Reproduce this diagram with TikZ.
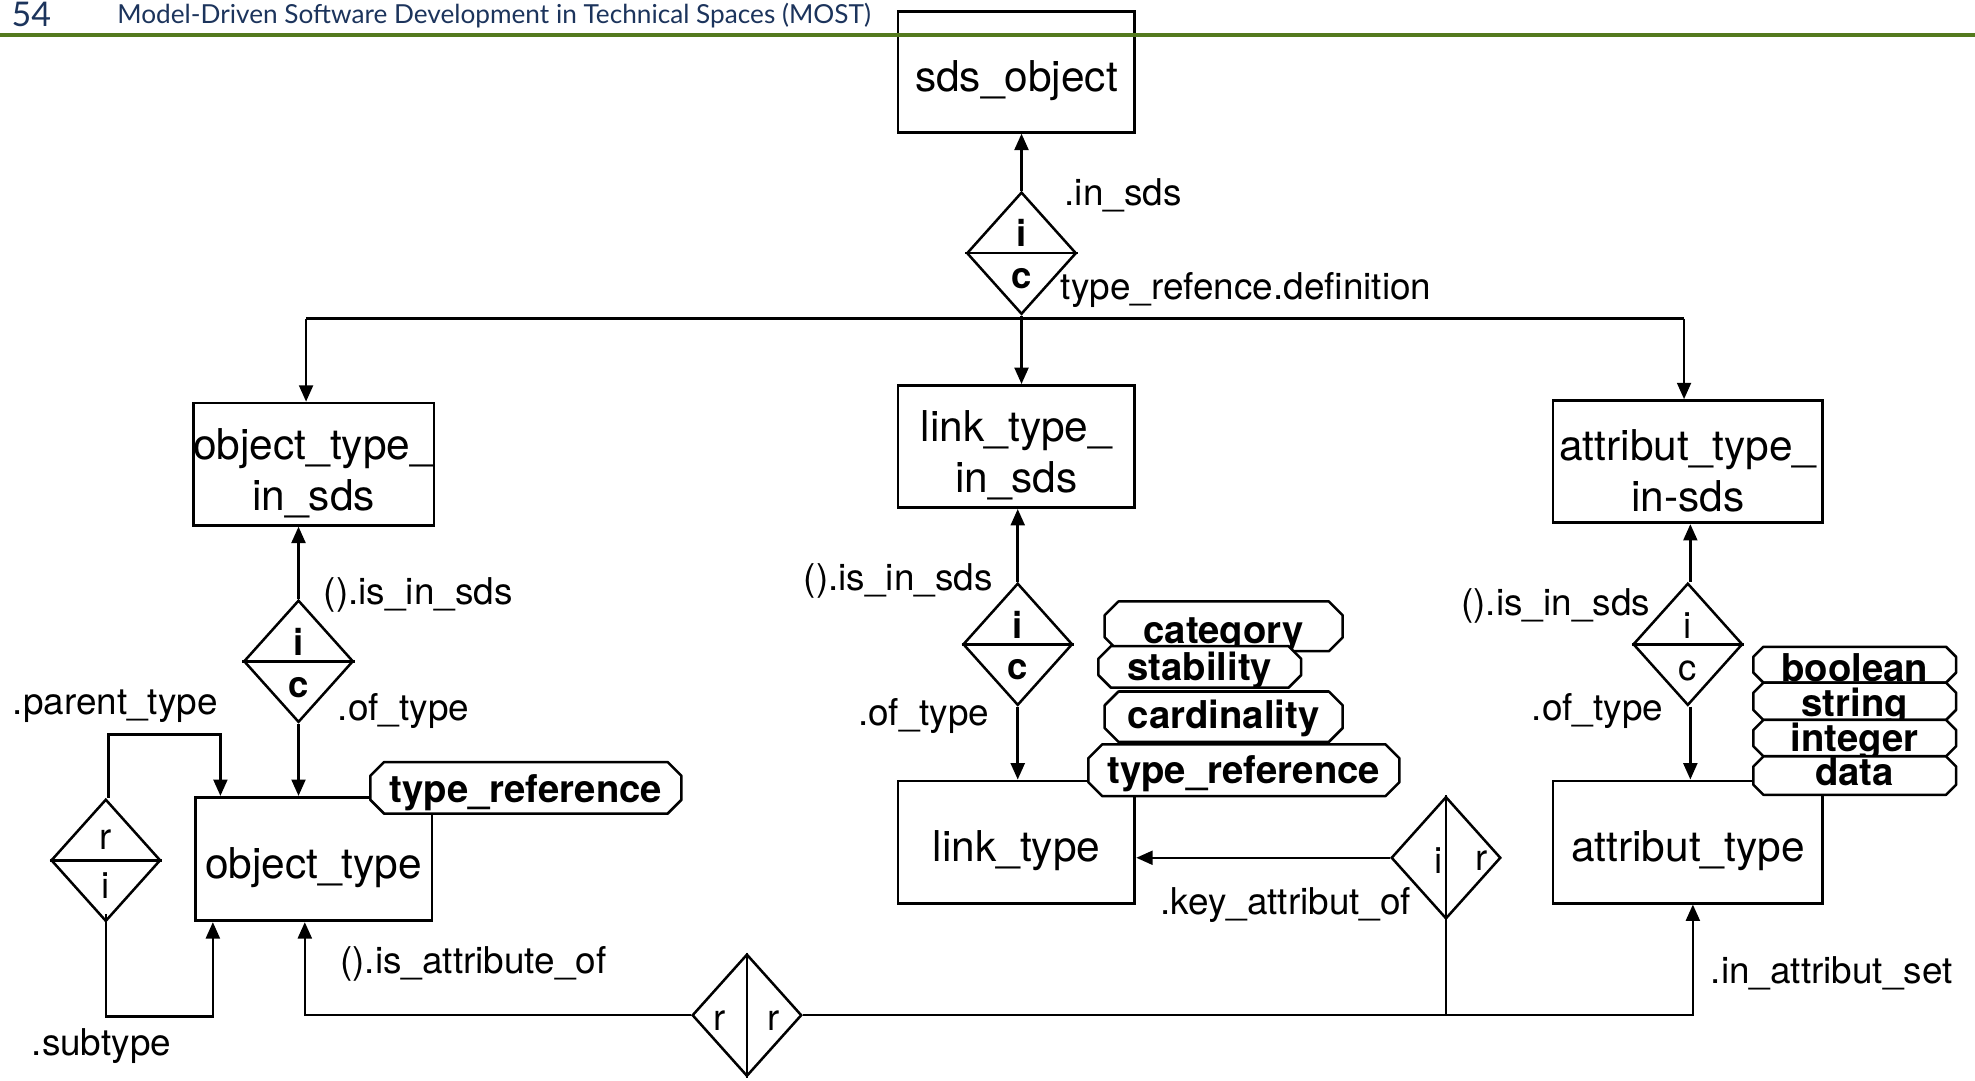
\documentclass[tikz,border=0pt]{standalone}
\usepackage{fontspec}
\setmainfont{TeX Gyre Heros}
\newfontfamily\headfont{Lato}
\usetikzlibrary{arrows.meta,shapes.geometric}
\definecolor{hdrblue}{RGB}{28,52,92}
\definecolor{hdrgreen}{RGB}{84,122,30}
% octagonal tag outline: centre x, centre y, half width, half height, chamfer
\newcommand\octag[5]{%
  \draw[tagline] ({#1-#3+#5},{#2-#4}) -- ({#1+#3-#5},{#2-#4}) -- ({#1+#3},{#2-#4+#5})
    -- ({#1+#3},{#2+#4-#5}) -- ({#1+#3-#5},{#2+#4}) -- ({#1-#3+#5},{#2+#4})
    -- ({#1-#3},{#2+#4-#5}) -- ({#1-#3},{#2-#4+#5}) -- cycle;}
\newcommand\bxstrut{\rule{0pt}{39pt}}
\begin{document}
\begin{tikzpicture}[x=1pt,y=-1pt,
  ebox/.style={draw,line width=2.2pt,inner sep=0pt,align=center,font=\fontsize{33.7}{40.4}\selectfont},
  dia/.style={diamond,draw,line width=2pt,inner sep=0pt,minimum width=87pt,minimum height=97pt},
  lbl/.style={inner sep=0pt,anchor=west,font=\fontsize{29.3}{35}\selectfont,text height=24pt,text depth=4pt},
  ltr/.style={inner sep=0pt,font=\fontsize{29}{35}\selectfont},
  bltr/.style={inner sep=0pt,font=\bfseries\fontsize{29}{35}\selectfont},
  tagline/.style={draw,fill=white,line width=2pt,line join=round},
  tagtext/.style={inner sep=0pt,anchor=base,font=\bfseries\fontsize{30.4}{36}\selectfont},
  arr/.style={-{Triangle[length=13pt,width=11pt]},line width=2pt},
  con/.style={line width=2pt}
]
\path[fill=white,use as bounding box] (0,0) rectangle (1568,858);

% header
\node[anchor=base west,inner sep=0pt,text=hdrblue,font=\headfont\fontsize{27}{30}\selectfont] (pgno) at (9,21) {54};
\node[anchor=base west,inner sep=0pt,text=hdrblue,font=\headfont\fontsize{20.8}{26}\selectfont] (title) at (93,19) {Model-Driven Software Development in Technical Spaces (MOST)};

% boxes
\node[ebox,minimum width=188pt,minimum height=96pt] (sds) at (807,57) {\bxstrut sds\_object};
\node[ebox,minimum width=188pt,minimum height=97pt] (otis) at (249,368.5) {\bxstrut object\_type\_\\in\_sds};
\node[ebox,minimum width=188pt,minimum height=97pt] (ltis) at (807,354.5) {\bxstrut link\_type\_\\in\_sds};
\node[ebox,minimum width=214pt,minimum height=97pt] (atis) at (1340,366.5) {\bxstrut attribut\_type\_\\in-sds};
\node[ebox,minimum width=188pt,minimum height=98pt] (ot) at (249,682) {\bxstrut object\_type};
\node[ebox,minimum width=188pt,minimum height=97pt] (lt) at (807,668.5) {\bxstrut link\_type};
\node[ebox,minimum width=214pt,minimum height=97pt] (at) at (1340,668.5) {\bxstrut attribut\_type};

% diamonds
\node[dia] (d1) at (811,201) {};
\node[dia] (d2) at (237,525) {};
\node[dia] (d3) at (808,511.5) {};
\node[dia] (d4) at (1340,511.5) {};
\node[dia] (d5) at (84,683) {};
\node[dia] (d6) at (1148,681) {};
\node[dia] (d7) at (593,806) {};
\draw[con] (d1.west) -- (d1.east);
\draw[con] (d2.west) -- (d2.east);
\draw[con] (d3.west) -- (d3.east);
\draw[con] (d4.west) -- (d4.east);
\draw[con] (d5.west) -- (d5.east);
\draw[con] (d6.north) -- (d6.south);
\draw[con] (d7.north) -- (d7.south);
\node[bltr] (d1i) at (811,185) {i};
\node[bltr] (d1c) at (811,221) {c};
\node[bltr] (d2i) at (237,510) {i};
\node[bltr] (d2c) at (237,546) {c};
\node[bltr] (d3i) at (808,496) {i};
\node[bltr] (d3c) at (808,532) {c};
\node[ltr] (d4i) at (1340,497) {i};
\node[ltr] (d4c) at (1340,533) {c};
\node[ltr] (d5r) at (84,667) {r};
\node[ltr] (d5i) at (84,703) {i};
\node[ltr] (d6i) at (1142,683) {i};
\node[ltr] (d6r) at (1176,683) {r};
\node[ltr] (d7a) at (571,810) {r};
\node[ltr] (d7b) at (614,810) {r};

% connectors
\coordinate (busL) at (243,253);
\coordinate (busR) at (1337,253);
\draw[arr] (d1.north) -- (d1.north |- sds.south);
\draw[con] (busL) -- (busR);
\draw[arr] (busL) -- (busL |- otis.north);
\draw[arr] (d1.south) -- (d1.south |- ltis.north);
\draw[arr] (busR) -- (busR |- atis.north);
\draw[arr] (d2.north) -- (d2.north |- otis.south);
\draw[arr] (d2.south) -- (d2.south |- ot.north);
\draw[arr] (d3.north) -- (d3.north |- ltis.south);
\draw[arr] (d3.south) -- (d3.south |- lt.north);
\draw[arr] ([xshift=2pt]d4.north) -- ([xshift=2pt]d4.north |- atis.south);
\draw[arr] ([xshift=2pt]d4.south) -- ([xshift=2pt]d4.south |- at.north);
\coordinate (ptop) at (175,583);
\draw[arr] ([xshift=2pt]d5.north) |- (ptop) -- (ptop |- ot.north);
\coordinate (sbot) at (169,807);
\draw[arr] ([yshift=7pt]d5.south) |- (sbot) -- (sbot |- ot.south);
\coordinate (b1) at (242,806);
\coordinate (b2) at (1344,806);
\draw[arr] (d7.west) -- (b1) -- (b1 |- ot.south);
\draw[arr] (d7.east) -- (b2) -- (b2 |- at.south);
\draw[con] (d6.south) -- (d6.south |- b2);
\draw[arr] (d6.west) -- (d6.west -| lt.east);

% tags
\octag{417.5}{625.5}{123.5}{20.5}{11}
\node[tagtext] (otref) at (417.5,637) {type\_reference};
\octag{971.5}{497.25}{94.5}{19.75}{11}
\node[tagtext] (tcat) at (971.5,511) {category};
\octag{952.5}{529.5}{80.5}{16.5}{10}
\node[tagtext] (tstab) at (952.5,540) {stability};
\octag{971.5}{569}{94.5}{20}{11}
\node[tagtext] (tcard) at (971.5,578) {cardinality};
\octag{987.5}{611.5}{123.5}{20.5}{11}
\node[tagtext] (ltref) at (987.5,622) {type\_reference};
\octag{1472.5}{527.75}{80.5}{14.25}{8}
\node[tagtext] (tbool) at (1472.5,541) {boolean};
\octag{1472.5}{556.8}{80.5}{14.8}{8}
\node[tagtext] (tstr) at (1472.5,569) {string};
\octag{1472.5}{586}{80.5}{14.4}{8}
\node[tagtext] (tint) at (1472.5,597) {integer};
\octag{1472.5}{615.75}{80.5}{15.25}{8}
\node[tagtext] (tdata) at (1472.5,624) {data};

% labels
\node[lbl] (l1) at (845,153) {.in\_sds};
\node[lbl] (l2) at (842,228) {type\_refence.definition};
\node[lbl] (l3) at (257,470) {().is\_in\_sds};
\node[lbl] (l4) at (268,562) {.of\_type};
\node[lbl] (l5) at (10,557) {.parent\_type};
\node[lbl] (l6) at (25,828) {.subtype};
\node[lbl] (l7) at (270,763) {().is\_attribute\_of};
\node[lbl] (l8) at (638,459) {().is\_in\_sds};
\node[lbl] (l9) at (681,566) {.of\_type};
\node[lbl] (l10) at (921,716) {.key\_attribut\_of};
\node[lbl] (l11) at (1160,479) {().is\_in\_sds};
\node[lbl] (l12) at (1216,562) {.of\_type};
\node[lbl] (l13) at (1358,771) {.in\_attribut\_set};

% header rule
\draw[hdrgreen,line width=3pt] (0,28) -- (1568,28);
\end{tikzpicture}
\end{document}
